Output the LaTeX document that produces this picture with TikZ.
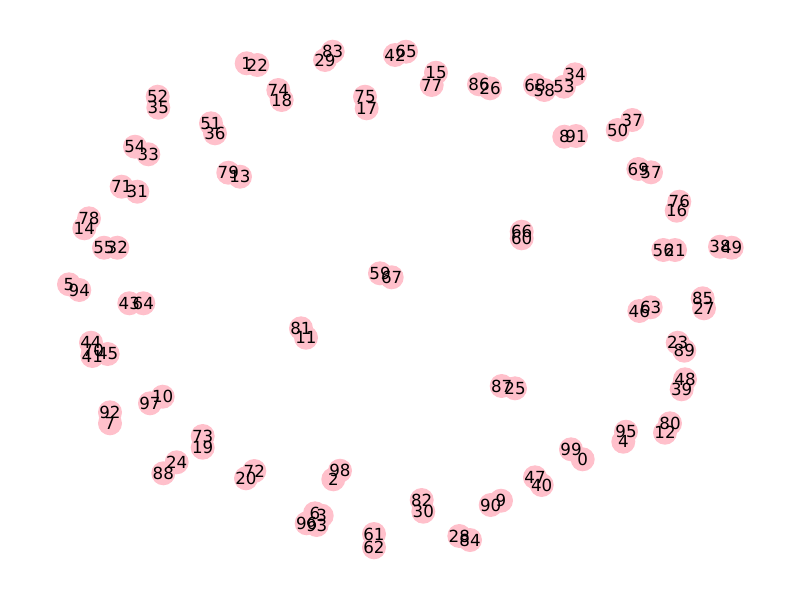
\documentclass[tikz,border=0pt]{standalone}
\usepackage{fontspec}
\setmainfont{DejaVu Sans}
\definecolor{nodepink}{HTML}{FFC0CB}
% node index / x / y in pixels
\def\vertexlist{0/582.7/459.3, 1/246.7/63.3, 2/333.3/479.3, 3/321.7/515.7,
  4/623.3/441.7, 5/69/284.3, 6/315/513.3, 7/110/423.3, 8/564.3/136.7,
  9/501/500.7, 10/162.7/396.7, 11/306/337.7, 12/665/432.7, 13/240/176.7,
  14/84.3/228.3, 15/436/72.7, 16/676.7/210.7, 17/366.7/108.3, 18/281.7/100,
  19/202.7/447.7, 20/246/478.3, 21/675/250, 22/257.3/65, 23/677.7/342.7,
  24/176.7/462.3, 25/515/388.3, 26/490/88.3, 27/704/308.3, 28/459.3/536,
  29/325/60, 30/423.3/511.7, 31/137.3/191.7, 32/117.3/247.7, 33/148.3/154.3,
  34/575/74.3, 35/158.3/107.7, 36/215/133.3, 37/632.3/120, 38/720/246.7,
  39/681.7/389.3, 40/541.7/485, 41/92.3/356, 42/395/55, 43/129.3/303.3,
  44/91/342.7, 45/107.7/354, 46/639.3/311, 47/535/477.3, 48/685/379.3,
  49/731.7/247.7, 50/617.7/130, 51/211/123.3, 52/157.7/96.7, 53/564/86.7,
  54/135/146.7, 55/104/247.7, 56/663.3/250, 57/651/172.3, 58/544.3/90,
  59/380/273.3, 60/521.7/238.3, 61/374/534, 62/374/547.3, 63/650.7/307.3,
  64/143.3/303.3, 65/406/51.7, 66/521.7/231.7, 67/391.7/277.3, 68/535/85,
  69/638.3/169, 70/93.3/350, 71/121.7/186.7, 72/254.3/471, 73/202.7/436,
  74/278.3/90, 75/365/96.7, 76/679.3/201.7, 77/431.7/85, 78/89/218.3,
  79/228.3/172.7, 80/670/423.3, 81/301/328.3, 82/421.7/500, 83/332.7/51.7,
  84/470/540, 85/702.7/298.3, 86/479/84.3, 87/501.7/386, 88/163.3/473.3,
  89/684.3/350.7, 90/490.7/505, 91/576/136, 92/110/412.3, 93/316.7/525,
  94/79.3/290, 95/626/431.7, 96/306.7/523.3, 97/150/403.3, 98/340/470.7,
  99/571/449.3}
\begin{document}
\begin{tikzpicture}[
    x=0.75pt, y=-0.75pt,
    vertex/.style={circle, fill=nodepink, minimum size=18pt, inner sep=0pt},
    tag/.style={inner sep=0pt, font=\fontsize{12.5}{15}\selectfont}
]
  \useasboundingbox (0,0) rectangle (800,600);
  % discs first, numbers on top
  \foreach \i/\x/\y in \vertexlist
    \node[vertex] (n\i) at (\x,\y) {};
  \foreach \i/\x/\y in \vertexlist
    \node[tag] (t\i) at (n\i) {\i};
\end{tikzpicture}
\end{document}
